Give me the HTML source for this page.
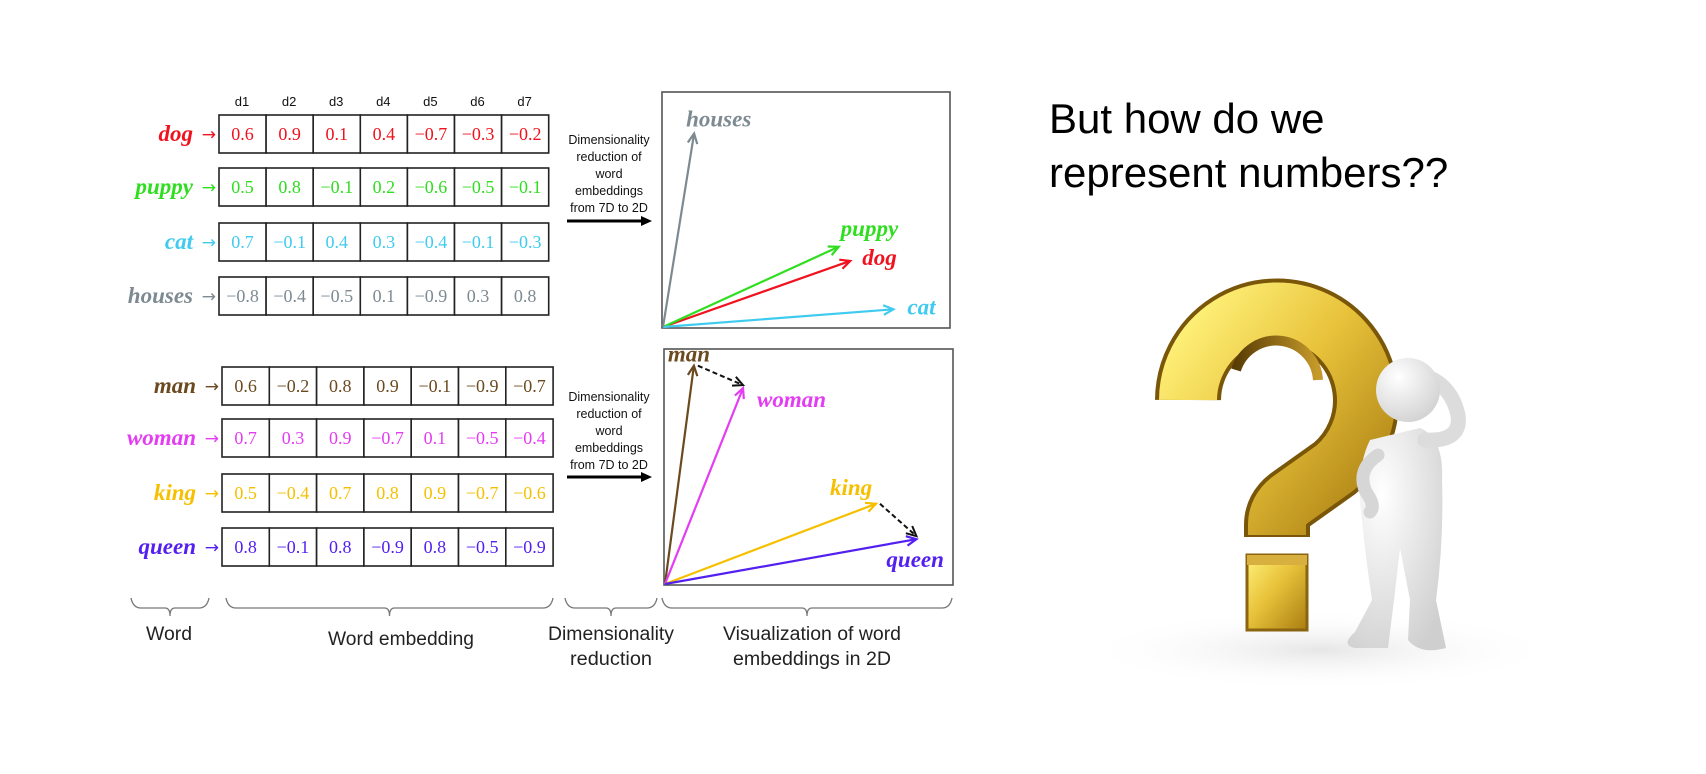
<!DOCTYPE html>
<html><head><meta charset="utf-8">
<style>
html,body{margin:0;padding:0;background:#fff;}
svg{display:block;}
.num{font-family:"Liberation Serif",serif;font-size:18px;}
.wl{font-family:"Liberation Serif",serif;font-size:23px;font-weight:bold;font-style:italic;}
.dim{font-family:"Liberation Sans",sans-serif;font-size:12.5px;fill:#111;}
.cap{font-family:"Liberation Sans",sans-serif;font-size:19px;fill:#222;}
</style></head>
<body>
<svg id="chart" width="1706" height="774" viewBox="0 0 1706 774" xmlns="http://www.w3.org/2000/svg">
<defs>
  <linearGradient id="gold" x1="0" y1="0" x2="1" y2="1">
    <stop offset="0" stop-color="#fff27a"/><stop offset="0.45" stop-color="#e8c23a"/><stop offset="1" stop-color="#a97d12"/>
  </linearGradient>
  <linearGradient id="goldDark" x1="0" y1="0" x2="1" y2="0">
    <stop offset="0" stop-color="#5a3d05"/><stop offset="1" stop-color="#c69a2a"/>
  </linearGradient>
  <radialGradient id="skin" cx="0.35" cy="0.3" r="0.8">
    <stop offset="0" stop-color="#ffffff"/><stop offset="1" stop-color="#cfcfcf"/>
  </radialGradient>
  <radialGradient id="floor" cx="0.5" cy="0.5" r="0.5">
    <stop offset="0" stop-color="#e6e6e6"/><stop offset="1" stop-color="#ffffff" stop-opacity="0"/>
  </radialGradient>
</defs>
<g id="tables"></g>
<g id="plots"></g>
<g id="captions"></g>

<!-- right side -->
<text x="1049" y="133" font-family="Liberation Sans, sans-serif" font-size="42" fill="#000">But how do we</text>
<text x="1049" y="187" font-family="Liberation Sans, sans-serif" font-size="42" fill="#000">represent numbers??</text>

<g>
  <ellipse cx="1320" cy="650" rx="240" ry="40" fill="url(#floor)"/>
  <path d="M1188,400 A89,89 0 1 1 1335,468 L1290,500 Q1277,510 1277,525 L1277,537" fill="none" stroke="#7a5608" stroke-width="66"/>
  <path d="M1188,400 A89,89 0 1 1 1335,468 L1290,500 Q1277,510 1277,525 L1277,535" fill="none" stroke="url(#gold)" stroke-width="58"/>
  <path d="M1236,370 A42,42 0 0 1 1318,380" fill="none" stroke="url(#goldDark)" stroke-width="10"/>
  <rect x="1247" y="555" width="60" height="75" fill="url(#gold)" stroke="#8a6410" stroke-width="3"/>
  <rect x="1247" y="555" width="60" height="10" fill="#d8b040"/>
</g>
<g>
  <path d="M1370,440 Q1355,470 1362,520 Q1366,560 1372,600 L1355,632 Q1340,645 1355,648 L1388,648 L1394,600 L1400,548 L1410,600 L1408,640 Q1420,655 1446,648 L1436,600 Q1444,540 1442,480 Q1444,438 1420,428 Z" fill="url(#skin)"/>
  <path d="M1378,455 Q1356,470 1366,492 Q1376,506 1370,512" fill="none" stroke="#d6d6d6" stroke-width="13" stroke-linecap="round"/>
  <path d="M1425,440 Q1462,442 1458,415 Q1452,388 1430,378" fill="none" stroke="#dcdcdc" stroke-width="15" stroke-linecap="round"/>
  <circle cx="1408" cy="390" r="32" fill="url(#skin)"/>
</g>

<script>
// ---------- data ----------
const dims = ["d1","d2","d3","d4","d5","d6","d7"];
const wordsTop = ["dog","puppy","cat","houses"];
const wordsBottom = ["man","woman","king","queen"];
const valsDog = [0.6,0.9,0.1,0.4,-0.7,-0.3,-0.2];
const valsPuppy = [0.5,0.8,-0.1,0.2,-0.6,-0.5,-0.1];
const valsCat = [0.7,-0.1,0.4,0.3,-0.4,-0.1,-0.3];
const valsHouses = [-0.8,-0.4,-0.5,0.1,-0.9,0.3,0.8];
const valsMan = [0.6,-0.2,0.8,0.9,-0.1,-0.9,-0.7];
const valsWoman = [0.7,0.3,0.9,-0.7,0.1,-0.5,-0.4];
const valsKing = [0.5,-0.4,0.7,0.8,0.9,-0.7,-0.6];
const valsQueen = [0.8,-0.1,0.8,-0.9,0.8,-0.5,-0.9];
// 2D reduced vectors (fraction of plot width / height)
const vecTopX = [0.65,0.61,0.80,0.108];
const vecTopY = [0.28,0.34,0.075,0.82];
const vecBottomX = [0.10,0.27,0.73,0.87];
const vecBottomY = [0.925,0.83,0.34,0.19];

const colors = {dog:"#f0121e",puppy:"#2fde1f",cat:"#3fcbef",houses:"#7d8a92",
  man:"#6b4a1f",woman:"#e43cf2",king:"#f6c000",queen:"#5320f0"};

const NS="http://www.w3.org/2000/svg";
function mk(tag,attrs,parent){const e=document.createElementNS(NS,tag);for(const k in attrs)e.setAttribute(k,attrs[k]);parent.appendChild(e);return e;}
function fmt(v){return (v<0?"\u2212":"")+Math.abs(v).toFixed(1);}

const tables=document.getElementById('tables');
function drawTable(words,vals,x0,rowTops,rowH,colW){
  words.forEach((w,i)=>{
    const y=rowTops[i];
    const lbl=mk('text',{x:x0-26,y:y+rowH/2+7,'text-anchor':'end',class:'wl',fill:colors[w]},tables);
    lbl.textContent=w;
    
    
    const ar=mk('text',{x:x0-3,y:y+rowH/2+6,'text-anchor':'end','font-family':'DejaVu Sans, sans-serif','font-size':'17',fill:colors[w]},tables);
    ar.textContent='\u2192';
    
    
    vals[i].forEach((v,j)=>{
      const cx=x0+j*colW;
      const r=mk('rect',{x:cx,y:y,width:colW,height:rowH,fill:'#fff',stroke:'#222','stroke-width':1.6},tables);
      
      
      const t=mk('text',{x:cx+colW/2,y:y+rowH/2+6,'text-anchor':'middle',class:'num',fill:colors[w]},tables);
      t.textContent=fmt(v);
      
      
    });
  });
}
drawTable(wordsTop,[valsDog,valsPuppy,valsCat,valsHouses],219,[115,168,223,277],38,47.1);
drawTable(wordsBottom,[valsMan,valsWoman,valsKing,valsQueen],222,[367,419,474,528],38,47.3);
dims.forEach((d,j)=>{
  const t=mk('text',{x:219+j*47.1+23,y:106,'text-anchor':'middle','font-family':'Liberation Sans, sans-serif','font-size':'13',fill:'#111'},tables);
  t.textContent=d;
  
  
});

const dimLines=["Dimensionality","reduction of","word","embeddings","from 7D to 2D"];
function drawDimNote(y0,arrowY){
  dimLines.forEach((s,i)=>{
    const t=mk('text',{x:609,y:y0+i*17,'text-anchor':'middle',class:'dim'},tables);
    t.textContent=s;
    
    
  });
  const l=mk('line',{x1:567,y1:arrowY,x2:643,y2:arrowY,stroke:'#000','stroke-width':3},tables);
  
  
  const p=mk('polygon',{points:`641,${arrowY-5} 652,${arrowY} 641,${arrowY+5}`,fill:'#000'},tables);
  
  
}
drawDimNote(144,221);
drawDimNote(401,477);

const plots=document.getElementById('plots');
function arrowHead(x1,y1,x2,y2,color,w){
  const a=Math.atan2(y2-y1,x2-x1),L=11,s=0.45;
  mk('polyline',{points:`${x2-L*Math.cos(a-s)},${y2-L*Math.sin(a-s)} ${x2},${y2} ${x2-L*Math.cos(a+s)},${y2-L*Math.sin(a+s)}`,fill:'none',stroke:color,'stroke-width':w},plots);
}
function drawPlot(box,words,vx,vy,labelOff,name){
  const fr=mk('rect',{x:box.x,y:box.y,width:box.w,height:box.h,fill:'#fff',stroke:'#555','stroke-width':1.6},plots);
  
  
  const ox=box.x+1, oy=box.y+box.h-1;
  const sx=v=>ox+v*box.w, sy=v=>oy-v*box.h;
  const tips=[];
  words.forEach((w,i)=>{
    const x2=sx(vx[i]),y2=sy(vy[i]);
    tips.push([x2,y2]);
    const ln=mk('line',{x1:ox,y1:oy,x2:x2,y2:y2,stroke:colors[w],'stroke-width':2.2},plots);
    
    
    arrowHead(ox,oy,x2,y2,colors[w],2.2);
    const t=mk('text',{x:x2+labelOff[i][0],y:y2+labelOff[i][1],class:'wl',fill:colors[w]},plots);
    t.textContent=w;
    
    
  });
  return tips;
}
drawPlot({x:662,y:92,w:288,h:236},wordsTop,vecTopX,vecTopY,[[12,4],[2,-11],[14,5],[-8,-7]],'top-plot');
const tb=drawPlot({x:664,y:349,w:289,h:236},wordsBottom,vecBottomX,vecBottomY,[[-26,-4],[14,19],[-46,-9],[-30,28]],'bottom-plot');
function dashed(a,b){
  const ln=mk('line',{x1:a[0]+4,y1:a[1],x2:b[0],y2:b[1]-3,stroke:'#111','stroke-width':2,'stroke-dasharray':'5,3'},plots);
  
  
  arrowHead(a[0]+4,a[1],b[0],b[1]-3,'#111',2);
}
dashed(tb[0],tb[1]);
dashed(tb[2],tb[3]);

const caps=document.getElementById('captions');
function brace(x1,x2,y){
  const m=(x1+x2)/2;
  const p=mk('path',{d:`M${x1},${y} q2,10 10,10 L${m-5},${y+10} q5,0 5,8 q0,-8 5,-8 L${x2-10},${y+10} q8,0 10,-10`,fill:'none',stroke:'#777','stroke-width':1.3},caps);
  
  
}
brace(131,209,598); brace(226,553,598); brace(565,657,598); brace(662,952,598);
const capText=[["Word",169,634,46],["Word embedding",401,639,146],["Dimensionality",611,634,126],["reduction",611,659,82],["Visualization of word",812,634,178],["embeddings  in 2D",812,659,158]];
capText.forEach(c=>{
  const t=mk('text',{x:c[1],y:c[2]+6,'text-anchor':'middle',class:'cap',textLength:c[3],lengthAdjust:'spacingAndGlyphs'},caps);
  t.textContent=c[0];
  
  
});
</script>
</svg>
</body></html>
